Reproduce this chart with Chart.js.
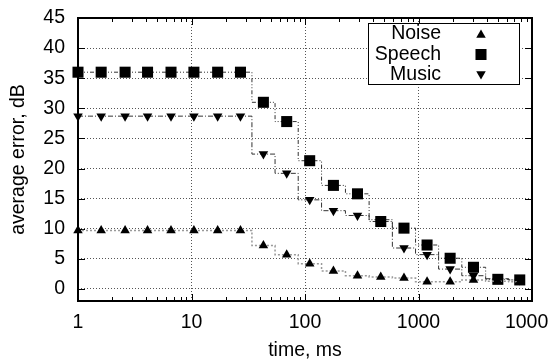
<!DOCTYPE html>
<html>
<head>
<meta charset="utf-8">
<script src="https://cdn.jsdelivr.net/npm/chart.js@4"></script>
<style>
  html, body { margin: 0; padding: 0; background: #fff; overflow: hidden; }
  #wrap { width: 549px; height: 360px; }
</style>
</head>
<body>
<div id="wrap"><canvas id="chart" width="549" height="360"></canvas></div>
<script>
// sample times (ms) where each curve is marked
const times = [1, 1.6, 2.6, 4.1, 6.6, 10.5, 17, 27, 43, 69, 110, 178, 290, 465, 745, 1190, 1900, 3050, 5000, 7800];

// average error, dB
const noise  = [9.7, 9.7, 9.7, 9.7, 9.7, 9.7, 9.7, 9.7, 7.2, 5.7, 4.2, 3.0, 2.2, 2.0, 1.8, 1.2, 1.2, 1.5, 1.3, 1.2];
const speech = [36, 36, 36, 36, 36, 36, 36, 36, 31.0, 27.8, 21.3, 17.2, 15.8, 11.2, 10.1, 7.3, 5.1, 3.6, 1.6, 1.5];
const music  = [28.7, 28.7, 28.7, 28.7, 28.7, 28.7, 28.7, 28.7, 22.4, 19.2, 14.8, 13.0, 12.2, 11.5, 6.8, 5.7, 3.3, 2.2, 1.7, 1.5];

const xTicks = [1, 10, 100, 1000, 10000];
const yTicks = [0, 5, 10, 15, 20, 25, 30, 35, 40, 45];
const minorSteps = [2, 3, 4, 5, 6, 7, 8, 9];

const FONT = "'Liberation Sans', Arial, Helvetica, sans-serif";
const FONT_SIZE = 19.5;

const pts = (vals) => times.map((t, i) => ({ x: t, y: vals[i] }));

// gnuplot-style box with inward ticks on all four sides
const framePlugin = {
  id: 'frame',
  beforeDatasetsDraw(chart) {
    const { ctx, chartArea: a, scales: { x, y } } = chart;
    ctx.save();
    ctx.strokeStyle = '#000';
    ctx.lineWidth = 1;
    ctx.beginPath();
    xTicks.forEach((d, i) => {
      const px = Math.round(x.getPixelForValue(d)) + 0.5;
      ctx.moveTo(px, a.bottom); ctx.lineTo(px, a.bottom - 7);
      ctx.moveTo(px, a.top); ctx.lineTo(px, a.top + 7);
      if (i === xTicks.length - 1) return;
      minorSteps.forEach(m => {
        const mx = Math.round(x.getPixelForValue(d * m)) + 0.5;
        ctx.moveTo(mx, a.bottom); ctx.lineTo(mx, a.bottom - 4);
        ctx.moveTo(mx, a.top); ctx.lineTo(mx, a.top + 4);
      });
    });
    yTicks.forEach(v => {
      const py = Math.round(y.getPixelForValue(v)) + 0.5;
      ctx.moveTo(a.left, py); ctx.lineTo(a.left + 7, py);
      ctx.moveTo(a.right, py); ctx.lineTo(a.right - 7, py);
    });
    ctx.stroke();
    ctx.lineWidth = 2;
    ctx.strokeRect(a.left, a.top, a.right - a.left, a.bottom - a.top);
    ctx.restore();
  }
};

// key box in the upper right: label right-aligned, then the point symbol
const keyPlugin = {
  id: 'key',
  afterDraw(chart) {
    const { ctx } = chart;
    const box = { left: 368, top: 23, right: 519, bottom: 84 };
    ctx.save();
    ctx.fillStyle = '#fff';
    ctx.fillRect(box.left, box.top, box.right - box.left, box.bottom - box.top);
    ctx.strokeStyle = '#000';
    ctx.lineWidth = 1;
    ctx.strokeRect(box.left + 0.5, box.top + 0.5, box.right - box.left, box.bottom - box.top);
    ctx.font = FONT_SIZE + 'px ' + FONT;
    ctx.textAlign = 'right';
    ctx.textBaseline = 'middle';
    chart.data.datasets.forEach((ds, i) => {
      const cy = 34 + i * 20.5;
      ctx.fillStyle = '#000';
      ctx.fillText(ds.label, 441, cy);
      ctx.fillStyle = ds.pointBackgroundColor;
      ctx.strokeStyle = ds.pointBorderColor;
      Chart.helpers.drawPoint(ctx, {
        pointStyle: ds.pointStyle,
        rotation: ds.pointRotation || 0,
        radius: ds.pointRadius,
        borderWidth: 0
      }, 481, cy + (ds.pointStyle === 'triangle' ? (ds.pointRotation ? -1 : 1) : 0));
    });
    ctx.restore();
  }
};

const gridColor = (edge) => (c) => (edge.includes(c.tick.value) ? 'rgba(0,0,0,0)' : '#555');

new Chart(document.getElementById('chart'), {
  type: 'line',
  data: {
    datasets: [
      {
        label: 'Noise', data: pts(noise),
        borderColor: '#999', borderWidth: 1.5, borderDash: [2, 2], stepped: 'middle',
        pointStyle: 'triangle', pointRadius: 5.5,
        pointBackgroundColor: '#000', pointBorderColor: '#000', pointBorderWidth: 0,
        clip: false
      },
      {
        label: 'Speech', data: pts(speech),
        borderColor: '#333', borderWidth: 1, borderDash: [4, 2, 1, 2, 1, 2], stepped: 'middle',
        pointStyle: 'rect', pointRadius: 7.8,
        pointBackgroundColor: '#000', pointBorderColor: '#000', pointBorderWidth: 0,
        clip: false
      },
      {
        label: 'Music', data: pts(music),
        borderColor: '#333', borderWidth: 1, borderDash: [5, 2, 1, 2], stepped: 'middle',
        pointStyle: 'triangle', pointRotation: 180, pointRadius: 5.5,
        pointBackgroundColor: '#000', pointBorderColor: '#000', pointBorderWidth: 0,
        clip: false
      }
    ]
  },
  options: {
    responsive: false,
    animation: false,
    events: [],
    layout: { padding: { top: 18, right: 17, left: 0, bottom: 0 } },
    plugins: { legend: { display: false }, tooltip: { enabled: false } },
    scales: {
      x: {
        type: 'logarithmic', min: 1, max: 10000,
        afterBuildTicks: (s) => { s.ticks = xTicks.map(v => ({ value: v, major: true })); },
        afterFit: (s) => { s.height = 59; s.paddingLeft = 0; s.paddingRight = 0; },
        ticks: {
          autoSkip: false, maxRotation: 0, padding: 10, color: '#000',
          font: { family: FONT, size: FONT_SIZE },
          callback: (v) => String(v)
        },
        grid: { color: gridColor([1, 10000]), lineWidth: 1, drawTicks: false },
        border: { display: false, dash: [1, 2] },
        title: {
          display: true, text: 'time, ms', color: '#000',
          font: { family: FONT, size: FONT_SIZE, lineHeight: 1 }, padding: 0
        }
      },
      y: {
        min: -2, max: 45,
        afterBuildTicks: (s) => { s.ticks = yTicks.map(v => ({ value: v })); },
        afterFit: (s) => { s.width = 78; s.paddingTop = 0; s.paddingBottom = 0; },
        ticks: {
          padding: 13, color: '#000',
          font: { family: FONT, size: FONT_SIZE }
        },
        grid: { color: gridColor([45]), lineWidth: 1, drawTicks: false },
        border: { display: false, dash: [1, 2] },
        title: {
          display: true, text: 'average error, dB', color: '#000',
          font: { family: FONT, size: FONT_SIZE, lineHeight: 1 }, padding: { top: 9, bottom: 0 }
        }
      }
    }
  },
  plugins: [framePlugin, keyPlugin]
});
</script>
</body>
</html>
